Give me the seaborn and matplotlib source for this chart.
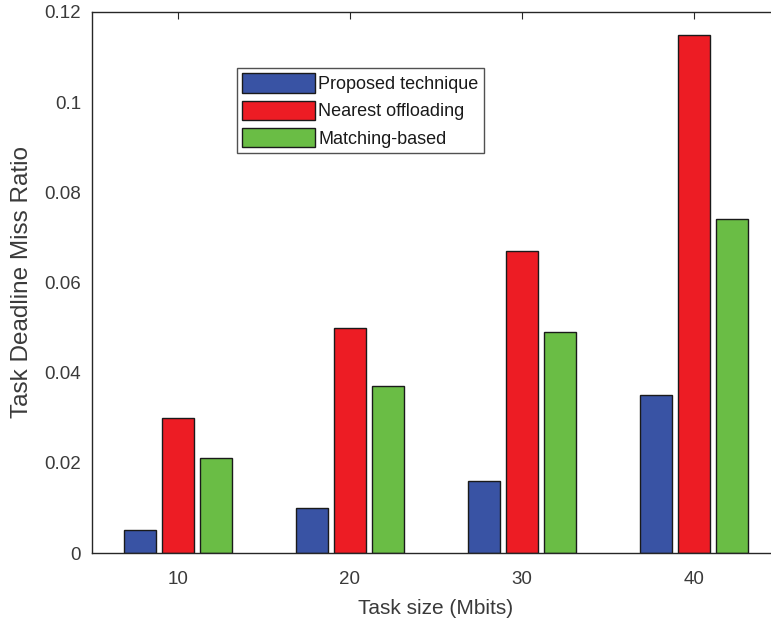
import pandas as pd
import matplotlib
matplotlib.use("Agg")
import matplotlib.pyplot as plt
import seaborn as sns

# ─── Data ────────────────────────────────────────────────────────────────────
task_sizes = ["10", "20", "30", "40"]
proposed   = [0.005, 0.010, 0.016, 0.035]
nearest    = [0.030, 0.050, 0.067, 0.115]
matching   = [0.021, 0.037, 0.049, 0.074]
methods    = ["Proposed technique", "Nearest offloading", "Matching-based"]
COLORS     = ["#3953A4", "#ED1C24", "#6ABD45"]

df = pd.DataFrame({
    "size": task_sizes * 3,
    "ratio": proposed + nearest + matching,
    "method": [m for m in methods for _ in task_sizes],
})

sns.set_style("white")
plt.rcParams["font.family"] = ["Liberation Sans", "DejaVu Sans"]
TXT = "#3a3a3a"

fig = plt.figure(figsize=(7.71, 6.24), dpi=100)
ax = fig.add_axes([92/771, 71/624, 688/771, 541/624])

sns.barplot(data=df, x="size", y="ratio", hue="method", hue_order=methods,
            palette=COLORS, width=0.66, gap=0.15, edgecolor="#1a1a1a",
            linewidth=1.0, saturation=1, ax=ax)

ax.set_xlim(-0.5, 3.5)
ax.set_ylim(0, 0.12)
ax.set_yticks([0, 0.02, 0.04, 0.06, 0.08, 0.1, 0.12])
ax.set_yticklabels(["0", "0.02", "0.04", "0.06", "0.08", "0.1", "0.12"])
ax.tick_params(axis="both", direction="in", length=5, width=0.8,
               labelsize=13.5, colors="#262626", labelcolor=TXT, pad=8)
ax.tick_params(axis="x", top=True, pad=13)
ax.tick_params(axis="y", right=False)
for s in ax.spines.values():
    s.set_color("#262626")
    s.set_linewidth(1.0)

ax.set_xlabel("Task size (Mbits)", fontsize=15, color=TXT, labelpad=8)
ax.set_ylabel("Task Deadline Miss Ratio", fontsize=17.5, color=TXT, labelpad=8)

leg = ax.legend(loc="upper left", bbox_to_anchor=(237/771, 1 - 68/624),
                bbox_transform=fig.transFigure, fontsize=13, frameon=True,
                fancybox=False, edgecolor="#262626", handlelength=4.0,
                handleheight=1.3, handletextpad=0.2, labelspacing=0.4,
                borderpad=0.3, borderaxespad=0)
leg.get_frame().set_linewidth(1.0)
for t in leg.get_texts():
    t.set_color("#1a1a1a")

fig.savefig("out.png", dpi=100)
